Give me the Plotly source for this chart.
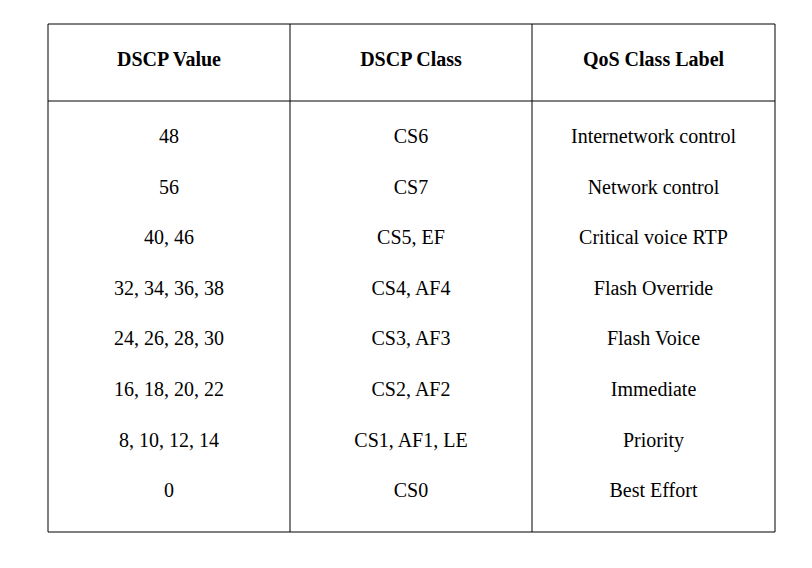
import plotly.graph_objects as go

headers = ["DSCP Value", "DSCP Class", "QoS Class Label"]
dscp_values = ["48", "56", "40, 46", "32, 34, 36, 38", "24, 26, 28, 30", "16, 18, 20, 22", "8, 10, 12, 14", "0"]
dscp_classes = ["CS6", "CS7", "CS5, EF", "CS4, AF4", "CS3, AF3", "CS2, AF2", "CS1, AF1, LE", "CS0"]
qos_labels = ["Internetwork control", "Network control", "Critical voice RTP", "Flash Override",
              "Flash Voice", "Immediate", "Priority", "Best Effort"]

cols = [dscp_values, dscp_classes, qos_labels]
col_edges = [48, 290, 532, 775]
top, header_bottom, bottom = 24, 101, 532
header_y = 61
row_y0, row_step = 138, 50.6

fig = go.Figure()
font = dict(family="Liberation Serif, DejaVu Serif, serif", size=20, color="black")
centers = [(col_edges[i] + col_edges[i + 1]) / 2 for i in range(3)]

fig.add_trace(go.Scatter(x=centers, y=[header_y] * 3, mode="text",
                         text=["<b>%s</b>" % h for h in headers], textfont=font,
                         hoverinfo="skip"))
for i, col in enumerate(cols):
    fig.add_trace(go.Scatter(x=[centers[i]] * len(col),
                             y=[row_y0 + k * row_step for k in range(len(col))],
                             mode="text", text=col, textfont=font, hoverinfo="skip"))

line = dict(color="black", width=1)
fig.add_shape(type="rect", x0=col_edges[0], x1=col_edges[-1], y0=top, y1=bottom, line=line)
fig.add_shape(type="line", x0=col_edges[0], x1=col_edges[-1], y0=header_bottom, y1=header_bottom, line=line)
for x in col_edges[1:-1]:
    fig.add_shape(type="line", x0=x, x1=x, y0=top, y1=bottom, line=line)

fig.update_layout(width=812, height=568, margin=dict(l=0, r=0, t=0, b=0),
                  paper_bgcolor="white", plot_bgcolor="white", showlegend=False,
                  xaxis=dict(range=[8, 820], visible=False, fixedrange=True),
                  yaxis=dict(range=[576, 8], visible=False, fixedrange=True))
fig.write_html("out.html")
